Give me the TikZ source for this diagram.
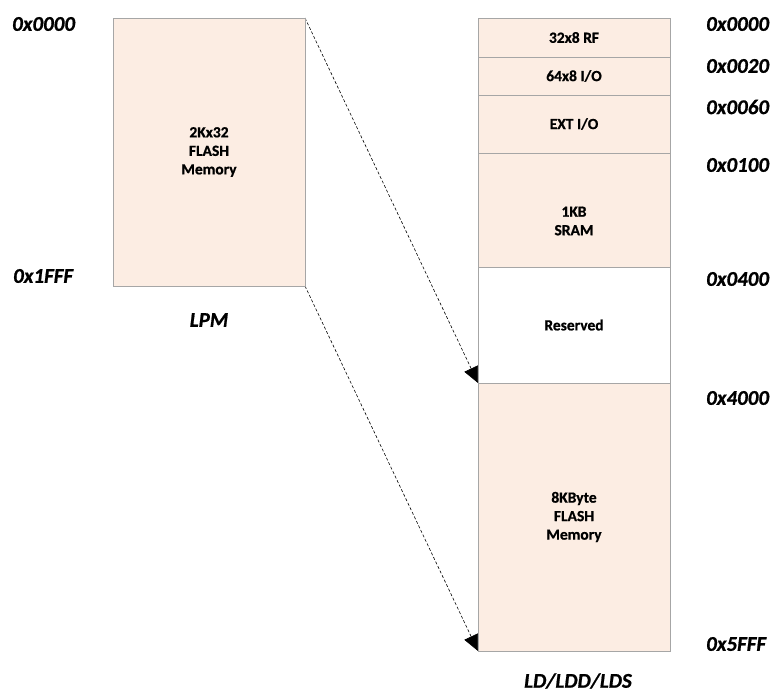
\documentclass[tikz,border=0pt]{standalone}
\usepackage{fontspec}
\setmainfont{Carlito}[BoldFont={Carlito Bold}, BoldItalicFont={Carlito Bold Italic},
  BoldFeatures={FakeBold=0.8}, BoldItalicFeatures={FakeBold=0.8}]
\usetikzlibrary{arrows.meta}
\definecolor{memfill}{RGB}{252,237,227}
\definecolor{memline}{RGB}{166,166,166}
\pgfdeclarelayer{bg}
\pgfsetlayers{bg,main}
\begin{document}
\begin{tikzpicture}[x=1pt,y=-1pt,
  region/.style={draw=memline, line width=0.9pt, fill=memfill, inner sep=0pt, outer sep=0pt,
    minimum width=192pt, font=\fontsize{15.5}{18.5}\selectfont\bfseries, align=center},
  regtext/.style={inner sep=0pt, font=\fontsize{15.5}{18.5}\selectfont\bfseries, align=center},
  addr/.style={inner sep=0pt, anchor=west, font=\fontsize{21}{23}\selectfont\bfseries\itshape},
  caption/.style={inner sep=0pt, font=\fontsize{21}{23}\selectfont\bfseries\itshape},
  mapline/.style={dashed, dash pattern=on 3pt off 2pt, line width=0.6pt,
    -{Triangle[length=16pt,width=15pt]}}]
\useasboundingbox (0,0) rectangle (773,693);

% program memory (LPM view)
\node[region, minimum height=268pt] (lpm) at (209,152) {2Kx32\\FLASH\\Memory};
\node[addr] (lpmtop) at (12,24) {0x0000};
\node[addr] (lpmend) at (13,276) {0x1FFF};
\node[caption] (lpmcap) at (209,320) {LPM};

% data memory (LD/LDD/LDS view)
\node[region, minimum height=39pt] (rf) at (574,37.5) {32x8 RF};
\node[region, minimum height=38pt] (io) at (574,76) {64x8 I/O};
\node[region, minimum height=58pt] (extio) at (574,124) {EXT I/O};
\node[region, minimum height=114pt] (sram) at (574,210) {};
\node[regtext] (sramtxt) at (574,221) {1KB\\SRAM};
\node[region, minimum height=116pt, fill=white] (resv) at (574,325) {Reserved};
\node[region, minimum height=268pt] (flash) at (574,517) {8KByte\\FLASH\\Memory};

\node[addr] (a0000) at (706,24) {0x0000};
\node[addr] (a0020) at (706,66) {0x0020};
\node[addr] (a0060) at (706,107) {0x0060};
\node[addr] (a0100) at (706,165) {0x0100};
\node[addr] (a0400) at (706,279) {0x0400};
\node[addr] (a4000) at (706,398) {0x4000};
\node[addr] (a5fff) at (706,644) {0x5FFF};
\node[caption] (ldcap) at (578,681) {LD/LDD/LDS};

% mapping of program memory into data space
\begin{pgfonlayer}{bg}
\draw[mapline] (lpm.north east) -- (flash.north west);
\draw[mapline] (lpm.south east) -- (flash.south west);
\end{pgfonlayer}
\end{tikzpicture}
\end{document}
